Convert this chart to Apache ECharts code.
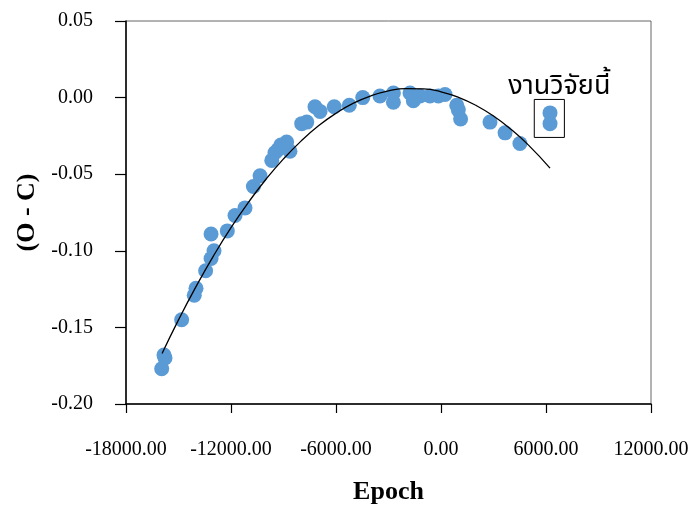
<!DOCTYPE html>
<html>
<head>
<meta charset="utf-8">
<script src="https://cdn.jsdelivr.net/npm/echarts@6/dist/echarts.min.js"></script>
<style>
html,body{margin:0;padding:0;background:#fff;}
#chart{width:693px;height:505px;}
</style>
</head>
<body>
<div id="chart"></div>
<script>
// Observed O-C points (Epoch, O-C)
const epochs = [-15960,-15770,-15830,-14820,-14100,-14000,-13450,-13140,-12970,-13140,-12210,-11770,-11200,-10720,-10340,-9670,-9490,-9320,-9150,-8820,-8630,-7960,-7670,-7200,-6910,-6100,-5240,-4470,-3490,-2720,-2720,-1770,-1580,-1200,-630,-150,230,900,990,1120,2800,3660,4510];
const oc = [-0.177,-0.170,-0.168,-0.145,-0.129,-0.1245,-0.113,-0.105,-0.100,-0.089,-0.087,-0.077,-0.072,-0.058,-0.051,-0.041,-0.036,-0.034,-0.031,-0.029,-0.035,-0.017,-0.016,-0.006,-0.009,-0.006,-0.005,0.000,0.001,0.003,-0.003,0.003,-0.002,0.001,0.001,0.001,0.002,-0.005,-0.008,-0.014,-0.016,-0.023,-0.030];
// This research (งานวิจัยนี้)
const newEpochs = [6230,6230];
const newOc = [-0.010,-0.017];
// Fitted curve
const fitEpochs = [-15940,-15000,-14000,-13000,-12000,-11000,-10000,-9000,-8000,-7000,-6000,-5000,-4000,-3000,-2000,-1000,0,1000,2000,3000,4000,5000,6230];
const fitOc = [-0.1671,-0.1451,-0.1234,-0.1033,-0.0849,-0.0683,-0.0533,-0.0400,-0.0284,-0.0184,-0.0102,-0.0036,0.0012,0.0044,0.0059,0.0057,0.0038,0.0002,-0.0051,-0.0120,-0.0207,-0.0310,-0.0460];
// Annotation box (data coords)
const boxX = [5330,7050];
const boxY = [-0.0012,-0.026];
const boxLabel = 'งานวิจัยนี้';

const chart = echarts.init(document.getElementById('chart'));
const serif = "'Liberation Serif','Times New Roman',serif";
const pts = epochs.map((x,i)=>[x,oc[i]]);
const newPts = newEpochs.map((x,i)=>[x,newOc[i]]);
const fit = fitEpochs.map((x,i)=>[x,fitOc[i]]);
const blue = '#5B9BD5';

chart.setOption({
  animation:false,
  backgroundColor:'#fff',
  grid:{left:126,right:42,top:21,bottom:101,show:true,borderColor:'#666',borderWidth:1,
        containLabel:false,outerBoundsMode:'none'},
  xAxis:{
    type:'value',min:-18000,max:12000,interval:6000,
    name:'Epoch',nameLocation:'middle',nameGap:75,
    nameTextStyle:{fontFamily:serif,fontWeight:'bold',fontSize:26,color:'#000'},
    axisLine:{show:true,onZero:false,lineStyle:{color:'#000',width:1.5}},
    axisTick:{show:true,inside:false,length:9,lineStyle:{color:'#000',width:1.2}},
    axisLabel:{margin:36,fontFamily:serif,fontSize:20,color:'#000',formatter:v=>v.toFixed(2)},
    splitLine:{show:false}
  },
  yAxis:{
    type:'value',min:-0.2,max:0.05,interval:0.05,
    name:'(O - C)',nameLocation:'middle',nameGap:86,
    nameTextStyle:{fontFamily:serif,fontWeight:'bold',fontSize:26,color:'#000'},
    axisLine:{show:true,onZero:false,lineStyle:{color:'#000',width:1.5}},
    axisTick:{show:true,inside:false,length:11,lineStyle:{color:'#000',width:1.2}},
    axisLabel:{margin:33,fontFamily:serif,fontSize:20,color:'#000',formatter:v=>v.toFixed(2)},
    splitLine:{show:false}
  },
  series:[
    {type:'scatter',data:pts,symbol:'circle',symbolSize:15,itemStyle:{color:blue,opacity:1},z:2},
    {type:'scatter',data:newPts,symbol:'circle',symbolSize:15,itemStyle:{color:blue,opacity:1},z:2,
      markArea:{silent:true,
        itemStyle:{color:'rgba(0,0,0,0)',borderColor:'#000',borderWidth:1},
        label:{show:true,position:'top',distance:-3,offset:[10,0],formatter:boxLabel,
          fontFamily:"'Noto Sans Thai','Tahoma','Loma','Garuda','DejaVu Sans',sans-serif",fontSize:27,color:'#000'},
        data:[[{coord:[boxX[0],boxY[0]]},{coord:[boxX[1],boxY[1]]}]]
      }
    },
    {type:'line',data:fit,smooth:true,symbol:'none',lineStyle:{color:'#000',width:1.3},z:3}
  ]
});
</script>
</body>
</html>
